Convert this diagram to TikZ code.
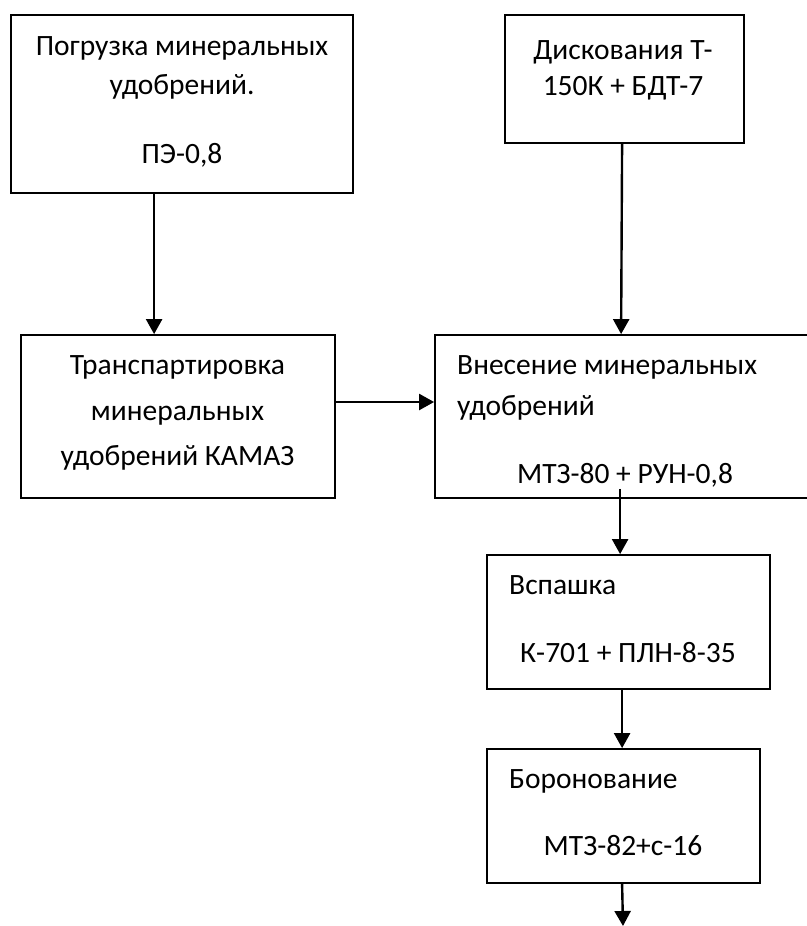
\documentclass[tikz,border=0pt]{standalone}
\usepackage{fontspec}
\setmainfont{Carlito}
\usetikzlibrary{arrows.meta}
\begin{document}
\begin{tikzpicture}[x=1pt,y=-1pt,
  box/.style={draw=black, line width=1.8pt, inner sep=0pt},
  txt/.style={font=\fontsize{29.5}{35}\selectfont, inner sep=0pt},
  arr/.style={line width=2.4pt, -{Triangle[length=15pt,width=16pt]}}]
\useasboundingbox (0,0) rectangle (806,926);
% boxes
\node[box, minimum width=342pt, minimum height=178pt] (b1) at (182,104) {};
\node[box, minimum width=239pt, minimum height=128pt] (b2) at (624.5,79) {};
\node[box, minimum width=314pt, minimum height=163pt] (b3) at (178,416.5) {};
\node[box, minimum width=375pt, minimum height=163pt] (b4) at (622.5,416.5) {};
\node[box, minimum width=283pt, minimum height=134pt] (b5) at (628.5,622) {};
\node[box, minimum width=273pt, minimum height=134pt] (b6) at (623.5,816) {};
% texts
\node[txt, anchor=base] (t1a) at (182,55) {Погрузка минеральных};
\node[txt, anchor=base] (t1b) at (182,94) {удобрений.};
\node[txt, anchor=base] (t1c) at (182,163) {ПЭ-0,8};
\node[txt, anchor=base] (t2a) at (623,59) {Дискования Т-};
\node[txt, anchor=base] (t2b) at (623,95) {150К + БДТ-7};
\node[txt, anchor=base] (t3a) at (177.5,374) {Транспартировка};
\node[txt, anchor=base] (t3b) at (177.5,420) {минеральных};
\node[txt, anchor=base] (t3c) at (177.5,465) {удобрений КАМАЗ};
\node[txt, anchor=base west] (t4a) at (457,374) {Внесение минеральных};
\node[txt, anchor=base west] (t4b) at (457,415) {удобрений};
\node[txt, anchor=base] (t4c) at (625,483) {МТЗ-80 + РУН-0,8};
\node[txt, anchor=base west] (t5a) at (509,594) {Вспашка};
\node[txt, anchor=base] (t5b) at (628,662) {К-701 + ПЛН-8-35};
\node[txt, anchor=base west] (t6a) at (509,788) {Боронование};
\node[txt, anchor=base] (t6b) at (623,855) {МТЗ-82+с-16};
% connectors
\coordinate (end) at (623,926);
\draw[arr] ([xshift=144pt]b1.south west) -- ([xshift=134pt]b3.north west);
\draw[arr] ([xshift=118pt]b2.south west) -- ([xshift=187pt]b4.north west);
\draw[arr] ([yshift=14.5pt]b3.east) -- ([yshift=14.5pt]b4.west);
\draw[arr] ([xshift=186pt,yshift=10pt]b4.south west) -- ([xshift=134pt]b5.north west);
\draw[arr] ([xshift=136pt]b5.south west) -- ([xshift=136pt]b6.north west);
\draw[arr] ([xshift=136pt]b6.south west) -- (end);
\end{tikzpicture}
\end{document}
